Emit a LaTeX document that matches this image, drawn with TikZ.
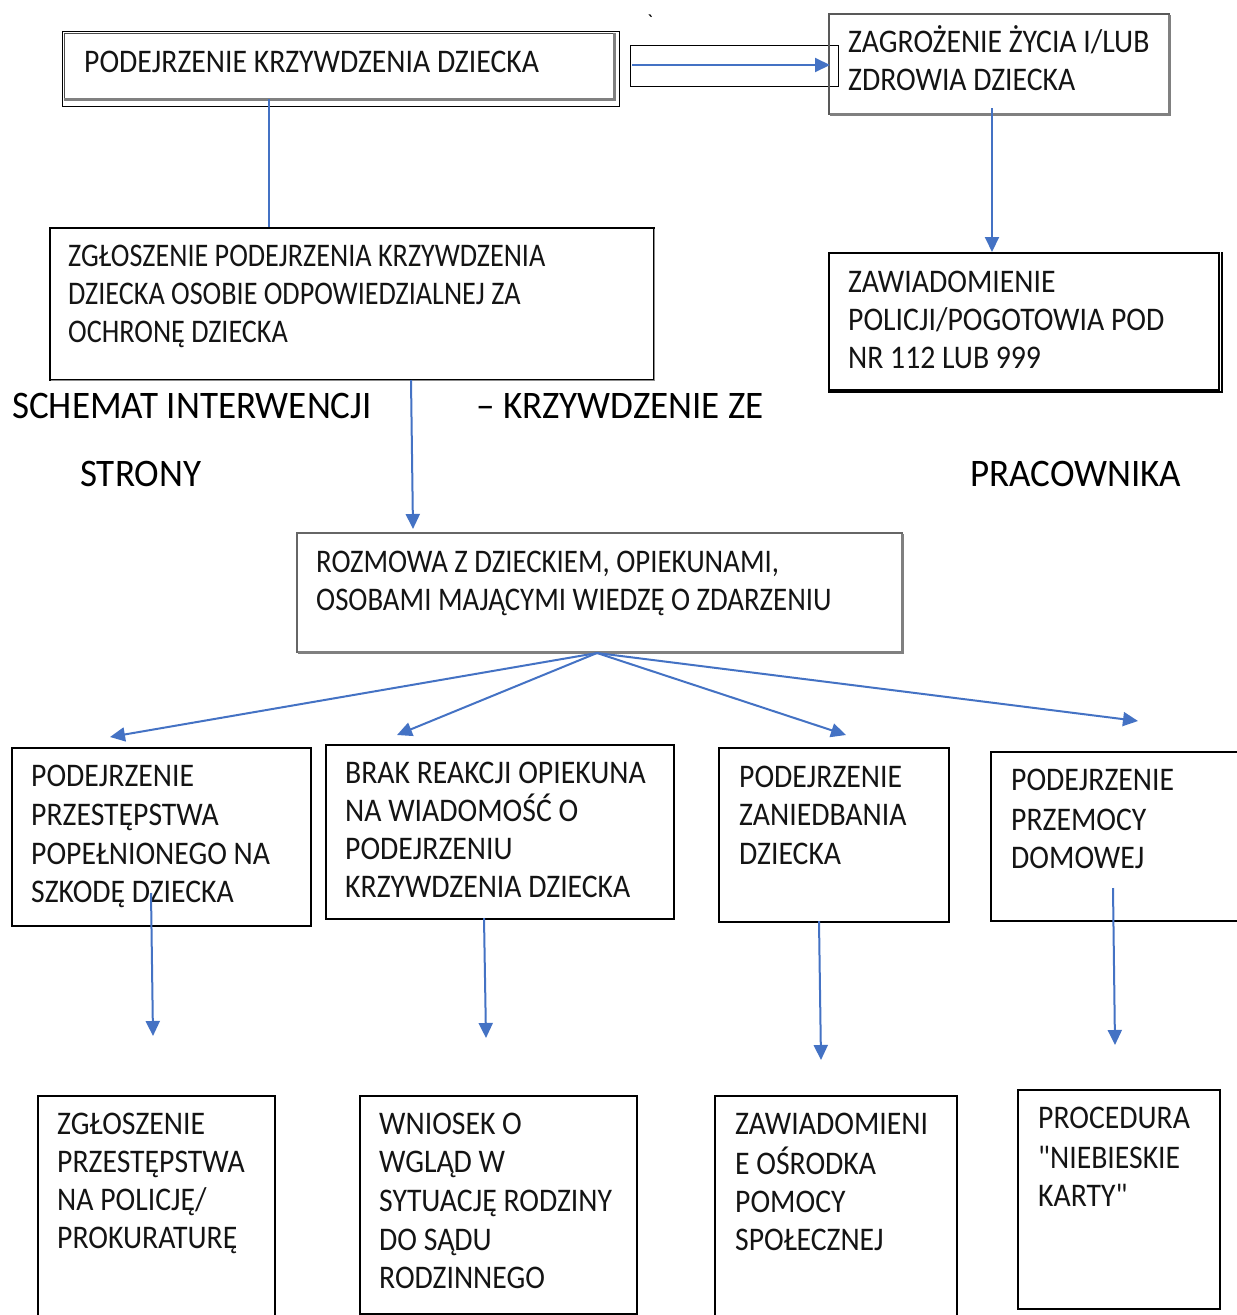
\documentclass[tikz,border=0pt]{standalone}
\usepackage{fontspec}
\setmainfont{Carlito}
\newfontfamily\boxfont[FakeStretch=0.9]{Carlito}
\newfontfamily\boxfontb[FakeStretch=0.853]{Carlito}
\newfontfamily\boxfontc[FakeStretch=0.873]{Carlito}
\newfontfamily\headfont[FakeStretch=0.95]{Carlito}
\usetikzlibrary{arrows.meta,calc}
\definecolor{arrowblue}{RGB}{68,114,196}
\definecolor{txtgray}{RGB}{20,20,20}
\tikzset{
  frame/.style={draw=black, line width=1.5pt, anchor=north west, inner sep=0pt},
  thinframe/.style={frame, line width=1pt},
  shadowline/.style={draw=black!50, line width=3pt},
  txt/.style={anchor=base west, inner sep=0pt, font=\boxfont\fontsize{33}{38}\selectfont, text=txtgray},
  txtb/.style={txt, font=\boxfontb\fontsize{33}{38}\selectfont},
  txtc/.style={txt, font=\boxfontc\fontsize{33}{38}\selectfont},
  head/.style={anchor=base west, inner sep=0pt, font=\headfont\fontsize{39}{46}\selectfont, text=black},
  conn/.style={draw=arrowblue, line width=2pt},
  arr/.style={conn, -{Triangle[length=15pt,width=14pt]}},
}
\begin{document}
\begin{tikzpicture}[x=1pt,y=-1pt]
\useasboundingbox[fill=white] (0,0) rectangle (1237,1315);

% ---------- top left box (double, shadowed) ----------
\node[thinframe, minimum width=557pt, minimum height=75pt] (b1) at (62,31) {};
\draw[black!70, line width=1pt] (64,99) -- (64,33) -- (614,33);
\draw[shadowline] (614,33) -- (614,99) -- (64,99);
\node[txt] (b1t) at (84,72) {PODEJRZENIE KRZYWDZENIA DZIECKA};

% small rectangle with arrow
\node[thinframe, minimum width=208pt, minimum height=41pt] (sr) at (630,45) {};
\node[inner sep=0pt, font=\fontsize{20}{24}\selectfont] (tick) at (650,22) {\textasciigrave};

% ---------- top right box ----------
\node[frame, draw=black!65, minimum width=340pt, minimum height=100pt] (b2) at (828,13) {};
\draw[shadowline] (1169.5,15) -- (1169.5,114.5) -- (830,114.5);
\node[txt] (b2t1) at (848,52) {ZAGROŻENIE ŻYCIA I/LUB};
\node[txt] (b2t2) at (848,90) {ZDROWIA DZIECKA};

% ---------- police box (double border) ----------
\node[frame, minimum width=390pt, minimum height=137pt] (b3) at (828,252) {};
\draw[black, line width=1.5pt] (1222,252) -- (1222,392) -- (828,392);
\node[txt] (b3t1) at (848,292) {ZAWIADOMIENIE};
\node[txt] (b3t2) at (848,330) {POLICJI/POGOTOWIA POD};
\node[txt] (b3t3) at (848,368) {NR 112 LUB 999};

% ---------- report box ----------
\node[frame, minimum width=604pt, minimum height=152pt] (b4) at (49,227) {};
\draw[black!45, line width=1.5pt] (654.5,229) -- (654.5,380.5) -- (51,380.5);
\node[txtb] (b4t1) at (68,266) {ZGŁOSZENIE PODEJRZENIA KRZYWDZENIA};
\node[txtb] (b4t2) at (68,304) {DZIECKA OSOBIE ODPOWIEDZIALNEJ ZA};
\node[txtb] (b4t3) at (68,342) {OCHRONĘ DZIECKA};

% ---------- heading ----------
\node[head] (h1) at (12,418) {SCHEMAT INTERWENCJI};
\node[head] (h2) at (476,418) {– KRZYWDZENIE ZE};
\node[head] (h3) at (80,486) {STRONY};
\node[head] (h4) at (970,486) {PRACOWNIKA};

% ---------- conversation box ----------
\node[frame, draw=black!60, minimum width=605pt, minimum height=119pt] (b5) at (296,532) {};
\draw[shadowline] (902.5,534) -- (902.5,652.5) -- (298,652.5);
\node[txtc] (b5t1) at (316,572) {ROZMOWA Z DZIECKIEM, OPIEKUNAMI,};
\node[txtc] (b5t2) at (316,610) {OSOBAMI MAJĄCYMI WIEDZĘ O ZDARZENIU};

% ---------- middle row ----------
\node[frame, line width=2pt, minimum width=299pt, minimum height=178pt] (bA) at (11,747) {};
\node[txt] (bAt1) at (31,786) {PODEJRZENIE};
\node[txt] (bAt2) at (31,825) {PRZESTĘPSTWA};
\node[txt] (bAt3) at (31,864) {POPEŁNIONEGO NA};
\node[txt] (bAt4) at (31,902) {SZKODĘ DZIECKA};

\node[frame, line width=2pt, minimum width=348pt, minimum height=174pt] (bB) at (325,744) {};
\node[txt] (bBt1) at (345,783) {BRAK REAKCJI OPIEKUNA};
\node[txt] (bBt2) at (345,821) {NA WIADOMOŚĆ O};
\node[txt] (bBt3) at (345,859) {PODEJRZENIU};
\node[txt] (bBt4) at (345,897) {KRZYWDZENIA DZIECKA};

\node[frame, line width=2pt, minimum width=230pt, minimum height=174pt] (bC) at (718,747) {};
\node[txt] (bCt1) at (739,787) {PODEJRZENIE};
\node[txt] (bCt2) at (739,825) {ZANIEDBANIA};
\node[txt] (bCt3) at (739,864) {DZIECKA};

\node[frame, line width=2pt, minimum width=260pt, minimum height=169pt] (bD) at (990,751) {};
\node[txt] (bDt1) at (1011,790) {PODEJRZENIE};
\node[txt] (bDt2) at (1011,830) {PRZEMOCY};
\node[txt] (bDt3) at (1011,868) {DOMOWEJ};

% ---------- bottom row ----------
\node[frame, minimum width=237pt, minimum height=235pt] (bE) at (37,1095) {};
\node[txt] (bEt1) at (57,1134) {ZGŁOSZENIE};
\node[txt] (bEt2) at (57,1172) {PRZESTĘPSTWA};
\node[txt] (bEt3) at (57,1210) {NA POLICJĘ/};
\node[txt] (bEt4) at (57,1248) {PROKURATURĘ};

\node[frame, minimum width=277pt, minimum height=218pt] (bF) at (359,1095) {};
\node[txt] (bFt1) at (379,1134) {WNIOSEK O};
\node[txt] (bFt2) at (379,1172) {WGLĄD W};
\node[txt] (bFt3) at (379,1211) {SYTUACJĘ RODZINY};
\node[txt] (bFt4) at (379,1250) {DO SĄDU};
\node[txt] (bFt5) at (379,1288) {RODZINNEGO};

\node[frame, minimum width=242pt, minimum height=235pt] (bG) at (714,1095) {};
\node[txt] (bGt1) at (735,1134) {ZAWIADOMIENI};
\node[txt] (bGt2) at (735,1174) {E OŚRODKA};
\node[txt] (bGt3) at (735,1212) {POMOCY};
\node[txt] (bGt4) at (735,1250) {SPOŁECZNEJ};

\node[frame, minimum width=202pt, minimum height=219pt] (bH) at (1017,1089) {};
\node[txt] (bHt1) at (1038,1128) {PROCEDURA};
\node[txt] (bHt2) at (1038,1168) {"NIEBIESKIE};
\node[txt] (bHt3) at (1038,1206) {KARTY"};

% ---------- connectors ----------
\coordinate (c1s) at (269,99);
\coordinate (c2s) at (632,65);
\coordinate (c3s) at (992,108);
\coordinate (c4s) at (411,380);
\coordinate (fan) at (597,653);
\coordinate (eA) at (110,737);
\coordinate (eB) at (397,735);
\coordinate (eC) at (846,735);
\coordinate (eD) at (1138,721);
\coordinate (dA) at (151,893);
\coordinate (dB) at (484,918);
\coordinate (dC) at (819,921);
\coordinate (dD) at (1113,888);
\coordinate (fA) at (153,1036);
\coordinate (fB) at (486,1038);
\coordinate (fC) at (821,1060);
\coordinate (fD) at (1115,1045);

\draw[conn] (c1s) -- (c1s |- b4.north);
\draw[arr] (c2s) -- ($(b2.west |- c2s)+(2,0)$);
\draw[arr] (c3s) -- (c3s |- b3.north);
\draw[arr] (c4s) -- ($(c4s |- b5.north)+(2,-3)$);
\draw[arr] (fan) -- (eA);
\draw[arr] (fan) -- (eB);
\draw[arr] (fan) -- (eC);
\draw[arr] (fan) -- (eD);
\draw[arr] (dA) -- (fA);
\draw[arr] (dB) -- (fB);
\draw[arr] (dC) -- (fC);
\draw[arr] (dD) -- (fD);
\end{tikzpicture}
\end{document}
